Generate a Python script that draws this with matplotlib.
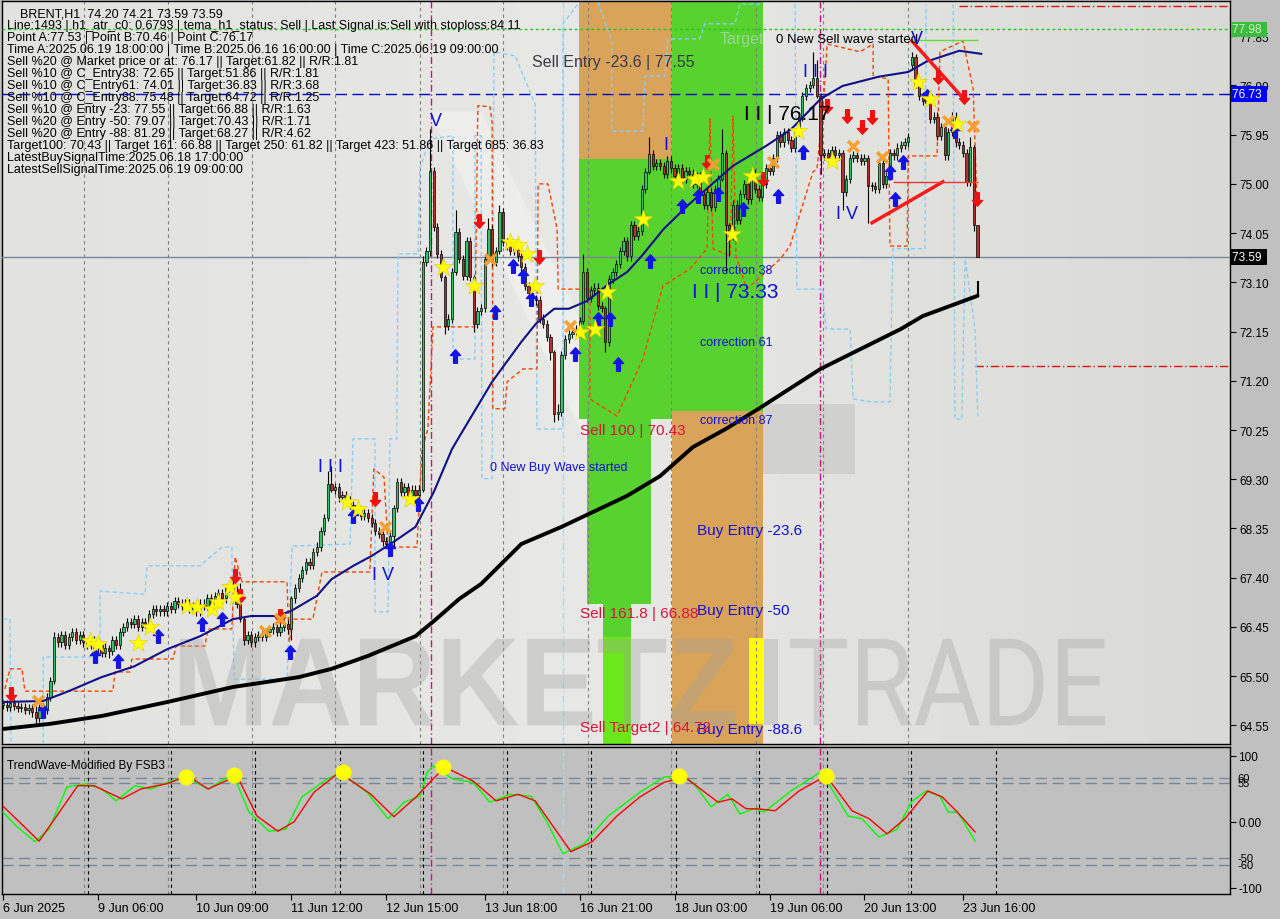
import matplotlib
matplotlib.use('Agg')
import matplotlib.pyplot as plt
import matplotlib.transforms as mtransforms
from matplotlib.path import Path
from matplotlib.patches import PathPatch, Polygon
from matplotlib.textpath import TextPath
from matplotlib.font_manager import FontProperties
from matplotlib.colors import LinearSegmentedColormap
import numpy as np

plt.rcParams['font.family'] = ['Liberation Sans', 'DejaVu Sans']

#------------------------------------------------------------------------------
# Data (bar index, price)
#------------------------------------------------------------------------------
close = [64.95, 64.90, 64.98, 64.92, 64.88, 64.90, 64.85, 64.88, 64.80, 64.70,
         64.90, 64.85, 65.10, 65.40, 66.25, 66.15, 66.30, 66.10, 66.25, 66.35,
         66.20, 66.30, 66.15, 66.10, 66.20, 66.05, 66.10, 65.95, 66.05, 65.98,
         66.20, 66.10, 66.35, 66.45, 66.55, 66.50, 66.60, 66.45, 66.55, 66.50,
         66.70, 66.80, 66.75, 66.80, 66.75, 66.85, 66.80, 66.95, 66.90, 66.85,
         66.90, 66.80, 66.85, 66.75, 66.90, 66.85, 67.00, 66.90, 67.05, 67.10,
         67.00, 67.20, 67.25, 67.15, 66.90, 66.60, 66.20, 66.30, 66.15, 66.25,
         66.30, 66.25, 66.35, 66.40, 66.45, 66.35, 66.45, 66.50, 66.40, 67.00,
         67.20, 67.40, 67.55, 67.70, 67.65, 67.90, 68.00, 68.30, 68.55, 69.20,
         69.10, 69.15, 68.95, 69.00, 68.90, 68.80, 68.75, 68.70, 68.60, 68.65,
         68.55, 68.45, 68.30, 68.25, 68.10, 68.05, 68.20, 68.75, 69.25, 69.05,
         69.15, 69.00, 69.10, 69.00, 69.10, 73.50, 73.70, 75.25, 74.17, 73.65,
         73.20, 72.26, 72.40, 73.30, 74.07, 73.55, 73.22, 73.90, 73.20, 72.30,
         72.55, 72.60, 73.55, 74.13, 73.50, 73.70, 74.45, 73.88, 73.80, 73.70,
         73.75, 73.60, 73.40, 73.03, 72.90, 72.78, 72.75, 72.40, 72.30, 72.05,
         71.75, 70.56, 70.60, 71.70, 72.00, 72.10, 72.15, 72.20, 72.35, 73.30,
         72.80, 72.95, 73.00, 72.65, 72.60, 71.95, 73.17, 73.30, 73.45, 73.70,
         73.90, 73.60, 74.20, 74.00, 74.10, 74.90, 75.23, 75.58, 75.35, 75.40,
         75.35, 75.20, 75.45, 75.30, 75.15, 75.30, 75.10, 75.25, 75.20, 75.00,
         75.15, 74.80, 74.60, 74.85, 74.55, 74.90, 75.10, 75.60, 74.20, 74.00,
         74.60, 74.30, 74.80, 75.00, 74.70, 75.20, 74.90, 74.75, 75.00, 75.30,
         75.25, 75.50, 75.95, 75.80, 76.00, 75.85, 75.70, 76.00, 76.30, 76.70,
         76.85, 76.90, 77.05, 76.70, 75.55, 75.60, 75.50, 75.65, 75.55, 75.60,
         74.85, 75.10, 75.50, 75.55, 75.50, 75.45, 75.50, 74.95, 74.95, 74.90,
         75.40, 75.00, 75.15, 75.60, 75.55, 75.70, 75.75, 75.80, 75.90, 77.45,
         76.90, 76.70, 76.60, 76.65, 76.25, 76.30, 75.92, 76.10, 75.55, 76.00,
         76.30, 75.80, 75.75, 75.60, 75.03, 75.72, 74.20, 73.59]

gap_open = {249: 77.30}
# bars with a visible long wick: index -> (high, low)
wicks = {9: (64.92, 64.60), 14: (66.35, 65.35), 29: (66.10, 65.85), 65: (67.30, 66.55),
         66: (66.65, 66.10), 79: (67.05, 66.20), 89: (69.45, 68.50), 90: (69.55, 69.05),
         107: (68.80, 68.00), 115: (73.60, 69.05), 117: (76.05, 73.60), 121: (73.25, 72.10),
         124: (74.50, 73.25), 129: (73.25, 72.15), 133: (74.35, 73.50), 136: (74.60, 73.65),
         150: (72.10, 71.60), 151: (71.80, 70.40), 152: (70.75, 70.45), 159: (73.65, 72.30),
         165: (72.65, 71.75), 177: (75.90, 75.20), 197: (76.05, 75.05), 198: (75.65, 73.30),
         199: (74.25, 73.60), 222: (77.55, 76.85), 223: (77.40, 76.65), 224: (76.75, 75.20),
         230: (75.65, 74.50), 237: (75.55, 74.25), 249: (77.55, 77.20), 250: (77.50, 76.85),
         265: (75.90, 74.95), 266: (75.75, 74.10), 267: (74.21, 73.59)}

blue_idx = [0, 11, 18, 27, 36, 45, 54, 63, 68, 75, 79, 86, 90, 96, 101, 107, 113, 118, 123,
            125, 134, 142, 146, 151, 155, 160, 166, 171, 175, 181, 188, 200, 209, 216, 224,
            230, 240, 248, 253, 262, 268]
blue_val = [65.00, 65.02, 65.21, 65.48, 65.69, 66.02, 66.27, 66.60, 66.66, 66.66, 66.76,
            67.05, 67.37, 67.63, 67.82, 68.09, 68.38, 69.05, 69.88, 70.12, 71.18, 71.95,
            72.30, 72.59, 72.59, 72.74, 73.07, 73.30, 73.61, 74.13, 74.61, 75.35, 75.73,
            76.06, 76.64, 76.89, 77.07, 77.16, 77.36, 77.57, 77.51]

black_idx = [0, 13, 27, 45, 63, 81, 90, 100, 113, 118, 125, 131, 142, 153, 171, 180, 189,
             198, 207, 224, 246, 252, 267]
black_val = [64.48, 64.58, 64.73, 65.00, 65.29, 65.48, 65.64, 65.89, 66.27, 66.56, 66.99,
             67.28, 68.05, 68.38, 68.98, 69.36, 69.92, 70.27, 70.66, 71.43, 72.20, 72.45,
             72.84]

# light blue dashed channel (nan = break)
lb_idx = [0, 1.9, 2.2, np.nan,
          11.0, 11.0, 26.6, 26.6, 38.9, 39.5, 54.0, 60.0, 62.7, 63.3, 77.8, 79.2, 95.1, 95.9,
          101.9, 101.9, 105.5, 106.0, 107.9, 108.2, 113.7, 114.2, 117.0, 123.3, 123.3, 129.3,
          129.3, 131.0, 131.2, 134.0, 134.5, 140.3, 145.8, 146.3, 153.4, 153.4, 157.5, np.nan,
          163.0, 166.8, 166.8, 175.3, 175.9, 181.4, 182.2, 190.9, 192.3, 200.5, 201.9, 207.4,
          np.nan,
          217.0, 217.5, 224.4, 225.5, 232.1, 232.9, 238.1, 243.0, 243.8, 252.6, 252.9, np.nan,
          260.3, 260.8, 262.7, 263.6, 266.3, 267.1]
lb_val = [66.60, 66.60, 64.19, np.nan,
          64.19, 65.87, 65.87, 67.14, 67.08, 67.63, 67.63, 67.99, 67.99, 65.44, 65.44, 68.01,
          68.05, 70.08, 70.08, 66.74, 66.74, 70.08, 70.08, 73.65, 73.65, 75.29, 75.87, 75.93,
          71.62, 71.62, 75.93, 75.93, 69.31, 69.31, 77.55, 77.47, 76.54, 70.27, 70.27, 78.09,
          78.47, np.nan,
          78.51, 77.74, 76.02, 76.02, 77.08, 77.08, 77.80, 77.80, 78.09, 78.09, 78.47, 78.47,
          np.nan,
          78.47, 72.97, 72.97, 72.20, 72.20, 70.85, 70.79, 70.79, 73.75, 73.75, 78.47, np.nan,
          78.47, 70.46, 70.46, 73.55, 72.20, 70.46]

# orange-red dashed stop line
or_idx = [0.5, 1.9, 5.2, 6.0, 30.1, 30.7, 34.8, 35.3, 46.6, 47.4, 55.3, 56.2, 62.7, 63.6,
          65.5, 77.8, 78.4, 79.5, 84.9, 87.4, 100.5, 101.6, 104.4, 105.5, 113.4, 114.8, 116.4,
          117.8, 129.3, 130.1, 133.4, 134.0, 134.2, 137.5, 138.1, 142.5, 146.3, 146.6, 149.3,
          151.8, 152.1, 160.8, 160.8, 168.2, 175.3, 180.8, 188.2, 192.9, 193.7, 194.5, 199.2,
          200.0, 200.8, 203.8, 212.9, 215.6, 221.9, 223.0, 224.7, 225.8, 234.8, 238.4, 238.4,
          242.5, 243.0, 247.7, 248.0, 255.9, 256.7, 263.0, 265.8, 266.8]
or_val = [65.25, 65.64, 65.64, 65.21, 65.21, 65.58, 65.58, 65.83, 65.83, 66.08, 66.08, 66.41,
          66.41, 67.80, 67.32, 67.32, 66.16, 66.60, 66.60, 67.51, 67.51, 69.50, 69.34, 67.99,
          67.99, 69.88, 70.27, 72.24, 72.24, 76.51, 76.49, 76.20, 70.66, 70.66, 71.18, 71.43,
          71.43, 75.00, 75.00, 74.13, 72.97, 72.97, 70.85, 70.52, 71.62, 73.03, 73.36, 73.75,
          76.25, 73.75, 73.61, 76.31, 73.61, 72.97, 73.55, 73.80, 75.23, 75.29, 76.51, 77.70,
          77.55, 77.70, 77.07, 77.03, 73.80, 73.80, 75.54, 75.54, 77.55, 77.76, 76.83, 74.71]

star_idx = [23.8, 26, 37, 40.3, 50.4, 53.2, 57.3, 58.9, 62.2, 63.6, 94.2, 97.3, 111.5, 120.5,
            129, 138.9, 141.1, 143.6, 145.8, 158, 162.2, 165.5, 175.3, 185, 189.6, 191.8,
            199.7, 205.2, 217.8, 227.1, 250.7, 254, 261.4]
star_val = [66.18, 66.12, 66.14, 66.45, 66.85, 66.83, 66.80, 66.93, 67.22, 67.03, 68.86,
            68.73, 68.92, 73.40, 73.03, 73.88, 73.82, 73.65, 73.03, 72.14, 72.20, 72.92,
            74.32, 75.06, 75.10, 75.14, 74.03, 75.15, 76.02, 75.44, 76.97, 76.64, 76.16]

cross_idx = [9.6, 71.8, 75.9, 104.7, 133.4, 155.3, 194.5, 211, 232.9, 240.8, 258.9, 265.8]
cross_val = [65.02, 66.37, 66.60, 68.38, 73.55, 72.26, 75.39, 75.42, 75.73, 75.52, 76.22, 76.12]

sell_idx = [2.2, 63.6, 65, 75.9, 101.9, 130.4, 146.8, 192.9, 208.2, 225.8, 231.2, 235.3,
            238.1, 256.2, 263.3, 266.8]
sell_val = [65.15, 67.43, 67.05, 66.66, 68.92, 74.29, 73.59, 75.42, 75.10, 76.51, 76.31,
            76.10, 76.29, 77.07, 76.68, 74.71]

buy_idx = [11, 25.2, 31.5, 42.5, 54.5, 60, 78.6, 95.9, 106, 113.7, 123.8, 134.8, 139.7,
           142.5, 144.7, 156.7, 163, 166.3, 168.5, 177.3, 186, 190.4, 195.9, 202.7, 212.3,
           219.2, 243, 244.4, 246.6, 253.2, 260.8]
buy_val = [64.83, 65.89, 65.79, 66.27, 66.51, 66.60, 65.97, 68.59, 67.95, 68.82, 71.68,
           72.53, 73.42, 73.22, 72.78, 71.72, 72.39, 72.39, 71.53, 73.51, 74.58, 74.77,
           74.81, 74.52, 74.77, 75.62, 75.23, 74.71, 75.42, 76.70, 76.02]

# TrendWave oscillator
wave_g_idx = [0, 3.6, 8.8, 12.6, 17.5, 22.7, 27.1, 31, 36.2, 40.5, 46, 50.1, 56.2, 63, 67.4,
              72.9, 77.5, 81.9, 88.8, 92.6, 99.7, 105.5, 109.9, 114.2, 116.2, 117.8, 123.3,
              128.8, 133.4, 138.9, 144.7, 149, 153.4, 159.2, 165.8, 174.5, 181.1, 185.2, 189,
              194, 198.6, 201.9, 205.8, 208.5, 215.9, 223.8, 226, 231.5, 235.3, 240, 245,
              248.8, 252.9, 256.7, 258.9, 261.6, 266.3]
wave_g_val = [15, -6, -30, -11, 53, 58, 50, 32, 55, 50, 62, 68, 50, 73, 15, -14, -11, 38, 65,
              75, 45, 5, 30, 39, 75, 85, 65, 60, 30, 42, 39, 0, -48, -33, 9, 45, 68, 70, 60,
              23, 42, 12, 20, 15, 47, 75, 60, 9, 5, -23, -11, 30, 47, 39, 15, 15, -29]
wave_r_idx = [0, 9.9, 20.5, 24.9, 32.6, 37.8, 44.9, 50.7, 56.2, 64.1, 69.6, 75.3, 79.7, 85.2,
              92.1, 100.8, 107.1, 113.2, 117.8, 121.1, 128.8, 135.1, 141.1, 145.8, 155.6,
              161.4, 168, 174.5, 181.1, 186.8, 195.9, 199.7, 203.6, 206.8, 211.5, 218.1,
              225.5, 232.6, 237.3, 242.2, 247.1, 253.4, 257.3, 261.1, 266.3]
wave_r_val = [24, -29, 55, 55, 35, 50, 58, 70, 50, 70, 9, -14, 0, 45, 75, 42, 8, 38, 65, 83,
              62, 32, 42, 32, -45, -30, 8, 38, 60, 68, 30, 35, 20, 20, 17, 47, 70, 17, 5, -18,
              5, 47, 38, 17, -15]
dot_idx = [50.1, 63.3, 93.2, 120.5, 185.2, 225.5]
dot_val = [68, 71, 75, 83, 70, 70]
wave_levels = [66, 59, -55, -65]
wave_level_labels = ['60', '55', '-50', '-60']

price_ticks = [77.85, 76.90, 75.95, 75.00, 74.05, 73.10, 72.15, 71.20, 70.25, 69.30, 68.35,
               67.40, 66.45, 65.50, 64.55]
time_tick_idx = [0, 26, 53, 79, 105, 132, 158, 184, 210, 236, 263]
time_tick_lbl = ['6 Jun 2025', '9 Jun 06:00', '10 Jun 09:00', '11 Jun 12:00', '12 Jun 15:00',
                 '13 Jun 18:00', '16 Jun 21:00', '18 Jun 03:00', '19 Jun 06:00',
                 '20 Jun 13:00', '23 Jun 16:00']
day_sep_idx = [22.2, 45.2, 68.2, 91, 114.2, 137, 160.3, 183, 206.3, 224.7, 248]
day_sep2_idx = [23.3, 46, 69, 92.3, 115, 138, 161, 184.4, 207, 225.8, 248.8, 272]
magenta_idx = [117.3, 223.8]
lightblue_vidx = 153.4

info_lines = [
    "Line:1493 | h1_atr_c0: 0.6793 | tema_h1_status: Sell | Last Signal is:Sell with stoploss:84.11",
    "Point A:77.53 | Point B:70.46 | Point C:76.17",
    "Time A:2025.06.19 18:00:00 | Time B:2025.06.16 16:00:00 | Time C:2025.06.19 09:00:00",
    "Sell %20 @ Market price or at: 76.17 || Target:61.82 || R/R:1.81",
    "Sell %10 @ C_Entry38: 72.65 || Target:51.86 || R/R:1.81",
    "Sell %10 @ C_Entry61: 74.01 || Target:36.83 || R/R:3.68",
    "Sell %10 @ C_Entry88: 75.48 || Target:64.72 || R/R:1.25",
    "Sell %10 @ Entry -23: 77.55 || Target:66.88 || R/R:1.63",
    "Sell %20 @ Entry -50: 79.07 || Target:70.43 || R/R:1.71",
    "Sell %20 @ Entry -88: 81.29 || Target:68.27 || R/R:4.62",
    "Target100: 70.43 || Target 161: 66.88 || Target 250: 61.82 || Target 423: 51.86 || Target 685: 36.83",
    "LatestBuySignalTime:2025.06.18 17:00:00",
    "LatestSellSignalTime:2025.06.19 09:00:00",
]

# zones: (x0, x1, y0, y1, colour)
zones = [(157.8, 183.3, 75.48, 78.60, '#d9a45a'),
         (157.8, 183.3, 70.46, 75.48, '#58d22e'),
         (160.0, 177.5, 66.89, 70.46, '#58d22e'),
         (164.4, 172.1, 66.25, 66.89, '#58d22e'),
         (164.4, 172.1, 64.10, 66.25, '#6ae81a'),
         (183.3, 208.2, 70.62, 78.60, '#58d22e'),
         (183.3, 208.2, 64.10, 70.62, '#d9a45a'),
         (204.4, 208.2, 64.58, 66.24, '#ffff00')]

# watermark words: (text, x0, x1, family, weight)
wm_words = [('MARKETZ', 48.5, 200.5, 'Liberation Sans', 'bold'),
            ('I', 208.4, 212.4, 'Liberation Sans', 'bold'),
            ('TRADE', 215.6, 301.9, 'Roboto', 'normal')]
wm_base, wm_top = 64.55, 66.22

XLIM = (-0.27, 336.16)
YLIM = (64.19, 78.53)
WLIM = (-109.1, 113.6)


def arrow_marker(up=True):
    v = [(0, 1), (0.75, 0.15), (0.28, 0.15), (0.28, -1), (-0.28, -1), (-0.28, 0.15),
         (-0.75, 0.15), (0, 1)]
    if not up:
        v = [(a, -b) for a, b in v]
    codes = [Path.MOVETO] + [Path.LINETO] * 6 + [Path.CLOSEPOLY]
    return Path(v, codes)


def DrawCandles(ax):
    n = len(close)
    opens = [close[0]] + close[:-1]
    for i, o in gap_open.items():
        opens[i] = o
    for i in range(n):
        o, c = opens[i], close[i]
        hi, lo = wicks.get(i, (max(o, c) + 0.08, min(o, c) - 0.08))
        ax.vlines(i, lo, hi, color='black', lw=0.8, zorder=4)
        up = c >= o
        h = max(abs(c - o), 0.025)
        ax.bar(i, h, bottom=min(o, c), width=0.62, color='#2fc36a' if up else '#b8302a',
               edgecolor='black', lw=0.5, zorder=5)


def PrepareMain(ax):
    grad = np.linspace(0, 1, 256).reshape(1, -1)
    cmap = LinearSegmentedColormap.from_list('bg', ['#e2e2df', '#e8e8e6', '#d9d9d5'])
    ax.imshow(grad, extent=[XLIM[0], XLIM[1], YLIM[0], YLIM[1]], aspect='auto', cmap=cmap,
              zorder=0)

    # faint logo behind the chart
    ax.add_patch(Polygon([(208.2, 70.75), (233.4, 70.75), (233.4, 69.40), (208.2, 69.40)],
                         closed=True, color='#b0b0b0', alpha=0.35, lw=0, zorder=0.5))
    ax.add_patch(Polygon([(117, 76.40), (131, 76.40), (178, 69.40), (164, 69.40)],
                         closed=True, color='#ffffff', alpha=0.3, lw=0, zorder=0.5))

    for x0, x1, y0, y1, col in zones:
        ax.fill_between([x0, x1], y0, y1, color=col, lw=0, zorder=1)

    for x in day_sep_idx:
        ax.axvline(x, color='#808080', lw=0.8, ls=(0, (3, 3)), zorder=2)
    for x in magenta_idx:
        ax.axvline(x, color='#c71585', lw=1.0, ls=(0, (5, 2, 1, 2)), zorder=2)
    ax.axvline(lightblue_vidx, color='#b0d8e8', lw=1.0, ls=(0, (5, 2, 1, 2)), zorder=2)

    # horizontal levels
    ax.axhline(77.98, color='#1ec81e', lw=1.0, ls=(0, (2, 2)), zorder=3)
    ax.axhline(76.73, color='#0000cd', lw=1.0, ls=(0, (8, 4)), zorder=3)
    ax.axhline(73.59, color='#778899', lw=1.0, zorder=3)
    ax.hlines(78.44, 262, XLIM[1], color='#e01010', lw=1.0, ls=(0, (6, 2, 1, 2)), zorder=3)
    ax.hlines(71.49, 266.3, XLIM[1], color='#e01010', lw=1.0, ls=(0, (6, 2, 1, 2)), zorder=3)

    ax.plot(lb_idx, lb_val, color='#87cefa', lw=1.0, ls=(0, (3, 2)), zorder=3)
    ax.plot(or_idx, or_val, color='#ff4500', lw=1.0, ls=(0, (3, 2)), zorder=3)

    ax.plot(black_idx, black_val, color='black', lw=2.8, solid_capstyle='round', zorder=6)
    ax.vlines(black_idx[-1], 72.84, 73.13, color='black', lw=1.5, zorder=6)
    ax.plot(blue_idx, blue_val, color='#10108a', lw=1.5, zorder=6)

    # pattern lines
    ax.plot([238.1, 257.5], [74.25, 75.04], color='#ff1a1a', lw=2.5, zorder=6)
    ax.plot([249, 262.7], [77.76, 76.68], color='#ff1a1a', lw=2.5, zorder=6)
    ax.hlines(75.04, 243.8, 267.1, color='#ff3030', lw=1.0, zorder=6)
    ax.hlines(77.78, 249, 267, color='#66dd33', lw=1.0, zorder=6)


def DrawWatermark(ax):
    for word, x0, x1, fam, weight in wm_words:
        prop = FontProperties(family=fam, weight=weight)
        tp = TextPath((0, 0), word, size=1, prop=prop)
        ext = tp.get_extents()
        sx = (x1 - x0) / ext.width
        sy = (wm_top - wm_base) / ext.height
        trans = mtransforms.Affine2D().translate(-ext.x0, -ext.y0).scale(sx, sy) \
            .translate(x0, wm_base)
        patch = PathPatch(trans.transform_path(tp), facecolor='#a0a0a0', edgecolor='none',
                          alpha=0.34, zorder=3)
        ax.add_patch(patch)


def DrawMarkers(ax):
    ax.scatter(buy_idx, buy_val, marker=arrow_marker(True), s=95, color='#1414e6', zorder=8)
    ax.scatter(sell_idx, sell_val, marker=arrow_marker(False), s=95, color='#f01010', zorder=8)
    ax.scatter(star_idx, star_val, marker='*', s=190, color='#ffff00', edgecolor='#e8c800',
               lw=0.4, zorder=9)
    ax.scatter(cross_idx, cross_val, marker='x', s=60, color='#f5a030', lw=2.6, zorder=9)


def DrawLabels(ax):
    ax.text(145, 77.37, 'Sell Entry -23.6 | 77.55', fontsize=11.5, color='#3a3a4a',
            va='center', zorder=10)
    ax.text(196.4, 77.80, 'Target', fontsize=11.5, color='#9cd59c', va='center', zorder=10)
    ax.text(211.8, 77.80, '0 New Sell wave started', fontsize=9.5, color='black',
            va='center', zorder=10)
    ax.text(203, 76.35, 'I I | 76.17', fontsize=15, color='black', va='center', zorder=10)
    ax.text(188.8, 72.92, 'I I | 73.33', fontsize=15, color='#1010e0', va='center', zorder=10)
    blue_txt = [(219.2, 77.16, 'I I I', 13), (248.8, 77.80, 'V', 13), (117, 76.22, 'V', 13),
                (181, 75.77, 'I', 13), (228.2, 74.42, 'I V', 13), (86.3, 69.54, 'I I I', 13),
                (101, 67.47, 'I V', 13)]
    for x, y, s, fs in blue_txt:
        ax.text(x, y, s, fontsize=fs, color='#1010e0', va='center', zorder=10)
    for y, s in [(73.34, 'correction 38'), (71.95, 'correction 61'), (70.44, 'correction 87')]:
        ax.text(191, y, s, fontsize=9, color='#1010e0', va='center', zorder=10)
    ax.text(133.4, 69.54, '0 New Buy Wave started', fontsize=9, color='#1010e0', va='center',
            zorder=10)
    for y, s in [(68.32, 'Buy Entry -23.6'), (66.78, 'Buy Entry -50'), (64.48, 'Buy Entry -88.6')]:
        ax.text(190.2, y, s, fontsize=11, color='#1010e0', va='center', zorder=10)
    for y, s in [(70.25, 'Sell 100 | 70.43'), (66.72, 'Sell 161.8 | 66.88'),
                 (64.52, 'Sell Target2 | 64.72')]:
        ax.text(158.2, y, s, fontsize=11, color='#dc143c', va='center', zorder=10)

    # info block, top left
    ax.text(0.0145, 0.9838, 'BRENT,H1  74.20 74.21 73.59 73.59', transform=ax.transAxes,
            fontsize=9, va='center', zorder=11)
    for k, s in enumerate(info_lines):
        ax.text(0.0037, 0.9675 - k * 0.01615, s, transform=ax.transAxes, fontsize=9,
                va='center', zorder=11)

    # price boxes on the right axis
    tr = mtransforms.blended_transform_factory(ax.transAxes, ax.transData)
    for y, s, bg, fg in [(77.98, '77.98', '#3cbc3c', '#d8f0d8'),
                         (76.73, '76.73', '#0000ff', 'white'),
                         (73.59, '73.59', 'black', 'white')]:
        ax.text(1.002, y, s + ' ', transform=tr, fontsize=8.5, color=fg, va='center',
                ha='left', bbox=dict(facecolor=bg, edgecolor='none', pad=1.4), zorder=12,
                clip_on=False)


def PrepareWave(ax):
    ax.set_facecolor('#c0c0c0')
    for y in wave_levels:
        ax.axhline(y, color='#778899', lw=1.0, ls=(0, (8, 4)), zorder=1)
    for x in day_sep_idx:
        ax.axvline(x, color='#808080', lw=0.8, ls=(0, (3, 3)), zorder=1)
    for x in day_sep2_idx:
        ax.axvline(x, color='black', lw=0.8, ls=(0, (3, 3)), zorder=1)
    for x in magenta_idx:
        ax.axvline(x, color='#c71585', lw=1.0, ls=(0, (5, 2, 1, 2)), zorder=1)
    ax.axvline(lightblue_vidx, color='#b0d8e8', lw=1.0, ls=(0, (5, 2, 1, 2)), zorder=1)
    ax.plot(wave_g_idx, wave_g_val, color='#00ff00', lw=1.0, zorder=3)
    ax.plot(wave_r_idx, wave_r_val, color='#ff0000', lw=1.0, zorder=4)
    ax.scatter(dot_idx, dot_val, s=110, color='#ffff00', zorder=5)
    ax.text(0.004, 0.88, 'TrendWave-Modified By FSB3', transform=ax.transAxes, fontsize=8.5,
            va='center')

    ax.yaxis.tick_right()
    ax.set_yticks([100, 0, -100])
    ax.set_yticklabels(['100', '0.00', '-100'])
    tr = mtransforms.blended_transform_factory(ax.transAxes, ax.transData)
    for y, s in zip(wave_levels, wave_level_labels):
        ax.text(1.006, y, s, transform=tr, fontsize=8, va='center', ha='left', clip_on=False)
    ax.set_ylim(*WLIM)
    ax.set_xticks(time_tick_idx)
    ax.set_xticklabels(time_tick_lbl)
    for lab in ax.get_xticklabels():
        lab.set_ha('left')
    ax.tick_params(axis='y', direction='out', length=4, labelsize=8.5, pad=2, width=0.8)
    ax.tick_params(axis='x', direction='out', length=4, labelsize=9, pad=2, width=0.8)


def main():
    fig = plt.figure(figsize=(12.8, 9.2), dpi=100, facecolor='#c0c0c0')
    ax1 = fig.add_axes([2 / 1280, 1 - 745 / 920, 1228 / 1280, 743 / 920])
    ax2 = fig.add_axes([2 / 1280, 1 - 895 / 920, 1228 / 1280, 147 / 920])

    PrepareMain(ax1)
    DrawCandles(ax1)
    DrawWatermark(ax1)
    DrawMarkers(ax1)
    DrawLabels(ax1)

    ax1.set_xlim(*XLIM)
    ax1.set_ylim(*YLIM)
    ax1.yaxis.tick_right()
    ax1.set_yticks(price_ticks)
    ax1.set_yticklabels(['%.2f' % t for t in price_ticks])
    ax1.set_xticks([])
    ax1.tick_params(axis='y', direction='out', length=4, labelsize=8.5, pad=3, width=0.8)

    PrepareWave(ax2)
    ax2.set_xlim(*XLIM)

    for ax in (ax1, ax2):
        for sp in ax.spines.values():
            sp.set_color('black')
            sp.set_linewidth(1.0)

    fig.savefig('out.png', dpi=100, facecolor=fig.get_facecolor())


if __name__ == "__main__":
    main()
